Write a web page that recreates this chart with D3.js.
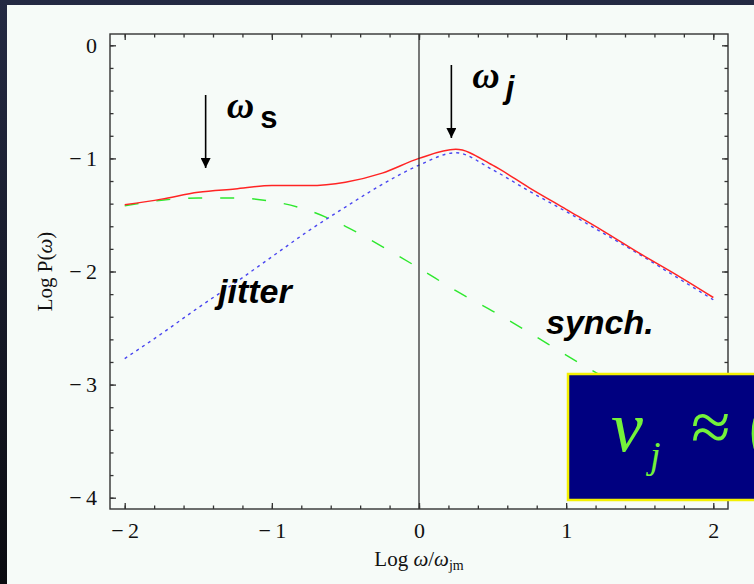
<!DOCTYPE html>
<html>
<head>
<meta charset="utf-8">
<script src="https://cdn.jsdelivr.net/npm/d3@7"></script>
<style>
  html, body { margin: 0; padding: 0; background: #0d0f16; }
  svg { display: block; }
</style>
</head>
<body>
<svg></svg>
<script>
const width = 754;
const height = 584;

// values (log10 of frequency ratio, log10 of power)
const logOmega = [-2, -1.75, -1.5, -1.25, -1, -0.75, -0.5, -0.25, 0, 0.25, 0.5, 0.75, 1, 1.25, 1.5, 1.75, 2];
const totalPower = [-1.41, -1.36, -1.30, -1.27, -1.24, -1.24, -1.21, -1.13, -1.00, -0.92, -1.06, -1.26, -1.45, -1.64, -1.84, -2.03, -2.23];
const jitterPower = [-1.42, -1.37, -1.35, -1.35, -1.38, -1.46, -1.60, -1.78, -1.97, -2.17, -2.35, -2.54, -2.74, -2.93, -3.12, -3.31, -3.50];
const synchPower = [-2.77, -2.55, -2.32, -2.10, -1.87, -1.64, -1.43, -1.23, -1.06, -0.95, -1.10, -1.29, -1.47, -1.66, -1.85, -2.05, -2.25];

const xTickValues = [-2, -1, 0, 1, 2];
const yTickValues = [0, -1, -2, -3, -4];
const markers = [
    { x: -1.45, label: "ω", sub: "s" },
    { x: 0.22, label: "ω", sub: "j" },
];

const frame = { left: 110, right: 728, top: 34, bottom: 509 };
const fontSerif = "'Liberation Serif', 'DejaVu Serif', serif";
const fontSans = "'Liberation Sans', Arial, sans-serif";

const x = d3.scaleLinear().domain([-2.1, 2.1]).range([frame.left, frame.right]);
const y = d3.scaleLinear().domain([-4.1, 0.1]).range([frame.bottom, frame.top]);

const svg = d3.select("svg")
    .attr("width", width)
    .attr("height", height)
    .attr("viewBox", [0, 0, width, height]);

const defs = svg.append("defs");

const bgGradient = defs.append("linearGradient")
    .attr("id", "bg-gradient")
    .attr("x1", 0).attr("y1", 0)
    .attr("x2", 0).attr("y2", 1);
bgGradient.append("stop").attr("offset", "0%").attr("stop-color", "#242a43");
bgGradient.append("stop").attr("offset", "100%").attr("stop-color", "#0a0b10");

defs.append("clipPath")
    .attr("id", "plot-clip")
    .append("rect")
    .attr("x", frame.left)
    .attr("y", frame.top)
    .attr("width", frame.right - frame.left)
    .attr("height", frame.bottom - frame.top);

// slide background and light panel
svg.append("rect")
    .attr("width", width)
    .attr("height", height)
    .attr("fill", "url(#bg-gradient)");

svg.append("rect")
    .attr("x", 7)
    .attr("y", 5)
    .attr("width", width - 7)
    .attr("height", height - 5)
    .attr("fill", "#f6fbf8");

// curves
const line = d3.line()
    .x(d => x(d[0]))
    .y(d => y(d[1]))
    .curve(d3.curveMonotoneX);

const plot = svg.append("g").attr("clip-path", "url(#plot-clip)");

plot.append("path")
    .attr("d", line(d3.zip(logOmega, jitterPower)))
    .attr("fill", "none")
    .attr("stroke", "#2ee82e")
    .attr("stroke-width", 1.4)
    .attr("stroke-dasharray", "14,18");

plot.append("path")
    .attr("d", line(d3.zip(logOmega, synchPower)))
    .attr("fill", "none")
    .attr("stroke", "#4a46f0")
    .attr("stroke-width", 1.4)
    .attr("stroke-dasharray", "3,4");

plot.append("path")
    .attr("d", line(d3.zip(logOmega, totalPower)))
    .attr("fill", "none")
    .attr("stroke", "#ff2424")
    .attr("stroke-width", 1.5);

// vertical line at zero
svg.append("line")
    .attr("x1", x(0)).attr("x2", x(0))
    .attr("y1", frame.top).attr("y2", frame.bottom)
    .attr("stroke", "#222")
    .attr("stroke-width", 1.2);

// frame ticks (inward, on all four sides)
const minorX = d3.range(-2, 2.01, 0.2).map(v => +v.toFixed(1));
const minorY = d3.range(0, -4.01, -0.2).map(v => +v.toFixed(1));

function addAxis(axis, transform, showLabels) {
    const g = svg.append("g")
        .attr("transform", transform)
        .call(axis);
    g.select(".domain").remove();
    g.selectAll("line").attr("stroke", "#333").attr("stroke-width", 1.3);
    if (showLabels) {
        g.selectAll("text")
            .attr("font-family", fontSerif)
            .attr("font-size", 22)
            .attr("fill", "#111");
    } else {
        g.selectAll("text").remove();
    }
    return g;
}

const fmt = d => d3.format("d")(d).replace("−", "−\u2009");

addAxis(d3.axisBottom(x).tickValues(minorX).tickSize(-3.5).tickFormat(""), `translate(0,${frame.bottom})`, false);
addAxis(d3.axisTop(x).tickValues(minorX).tickSize(-3.5).tickFormat(""), `translate(0,${frame.top})`, false);
addAxis(d3.axisLeft(y).tickValues(minorY).tickSize(-3.5).tickFormat(""), `translate(${frame.left},0)`, false);
addAxis(d3.axisRight(y).tickValues(minorY).tickSize(-3.5).tickFormat(""), `translate(${frame.right},0)`, false);

addAxis(d3.axisBottom(x).tickValues(xTickValues).tickSize(-6).tickPadding(13).tickFormat(fmt), `translate(0,${frame.bottom})`, true);
addAxis(d3.axisTop(x).tickValues(xTickValues).tickSize(-6), `translate(0,${frame.top})`, false);
addAxis(d3.axisLeft(y).tickValues(yTickValues).tickSize(-6).tickPadding(13).tickFormat(fmt), `translate(${frame.left},0)`, true);
addAxis(d3.axisRight(y).tickValues(yTickValues).tickSize(-6), `translate(${frame.right},0)`, false);

svg.append("rect")
    .attr("x", frame.left)
    .attr("y", frame.top)
    .attr("width", frame.right - frame.left)
    .attr("height", frame.bottom - frame.top)
    .attr("fill", "none")
    .attr("stroke", "#333")
    .attr("stroke-width", 1.4);

// axis titles
const xTitle = svg.append("text")
    .attr("x", x(0))
    .attr("y", 566)
    .attr("text-anchor", "middle")
    .attr("font-family", fontSerif)
    .attr("font-size", 21)
    .attr("fill", "#111");
xTitle.append("tspan").text("Log ");
xTitle.append("tspan").attr("font-style", "italic").text("ω");
xTitle.append("tspan").text("/");
xTitle.append("tspan").attr("font-style", "italic").text("ω");
xTitle.append("tspan").attr("font-size", 14).attr("dy", 4).text("jm");

const yTitle = svg.append("text")
    .attr("transform", `translate(52,${y(-2)}) rotate(-90)`)
    .attr("text-anchor", "middle")
    .attr("font-family", fontSerif)
    .attr("font-size", 21)
    .attr("fill", "#111");
yTitle.append("tspan").text("Log P(");
yTitle.append("tspan").attr("font-style", "italic").text("ω");
yTitle.append("tspan").text(")");

// arrows marking characteristic frequencies
defs.append("marker")
    .attr("id", "arrow-head")
    .attr("viewBox", "0 0 10 10")
    .attr("refX", 10)
    .attr("refY", 5)
    .attr("markerWidth", 10)
    .attr("markerHeight", 10)
    .attr("markerUnits", "userSpaceOnUse")
    .attr("orient", "auto")
    .append("path")
    .attr("d", "M0,0 L10,5 L0,10 Z")
    .attr("fill", "#000");

const arrowTops = [95, 65];
const arrowTips = [168, 138];

markers.forEach((m, i) => {
    const px = x(m.x);
    svg.append("line")
        .attr("x1", px).attr("x2", px)
        .attr("y1", arrowTops[i]).attr("y2", arrowTips[i])
        .attr("stroke", "#000")
        .attr("stroke-width", 1.6)
        .attr("marker-end", "url(#arrow-head)");
    const t = svg.append("text")
        .attr("x", px + 21)
        .attr("y", arrowTops[i] + 23)
        .attr("fill", "#000");
    t.append("tspan")
        .attr("font-family", fontSerif)
        .attr("font-style", "italic")
        .attr("font-weight", "bold")
        .attr("font-size", 38)
        .text(m.label);
    t.append("tspan")
        .attr("font-family", fontSans)
        .attr("font-weight", "bold")
        .attr("font-style", i === 1 ? "italic" : "normal")
        .attr("font-size", 31)
        .attr("dx", 6)
        .attr("dy", 10)
        .text(m.sub);
});

// curve labels
svg.append("text")
    .attr("x", 218)
    .attr("y", 303)
    .attr("font-family", fontSans)
    .attr("font-weight", "bold")
    .attr("font-style", "italic")
    .attr("font-size", 34)
    .attr("fill", "#000")
    .text("jitter");

svg.append("text")
    .attr("x", 546)
    .attr("y", 334)
    .attr("font-family", fontSans)
    .attr("font-weight", "bold")
    .attr("font-style", "italic")
    .attr("font-size", 34)
    .attr("fill", "#000")
    .text("synch.");

// overlaid formula box (cut by the page edge, as in the source slide)
svg.append("rect")
    .attr("x", 568)
    .attr("y", 374)
    .attr("width", 200)
    .attr("height", 126)
    .attr("fill", "#000080")
    .attr("stroke", "#f4f000")
    .attr("stroke-width", 2.5);

const formulaColor = "#74f23a";
svg.append("text")
    .attr("x", 611)
    .attr("y", 451)
    .attr("font-family", fontSerif)
    .attr("font-style", "italic")
    .attr("font-size", 72)
    .attr("fill", formulaColor)
    .text("ν");
svg.append("text")
    .attr("x", 650)
    .attr("y", 468)
    .attr("font-family", fontSerif)
    .attr("font-style", "italic")
    .attr("font-size", 38)
    .attr("fill", formulaColor)
    .text("j");
svg.append("text")
    .attr("x", 691)
    .attr("y", 451)
    .attr("font-family", fontSerif)
    .attr("font-size", 72)
    .attr("fill", formulaColor)
    .text("≈ (");
</script>
</body>
</html>
